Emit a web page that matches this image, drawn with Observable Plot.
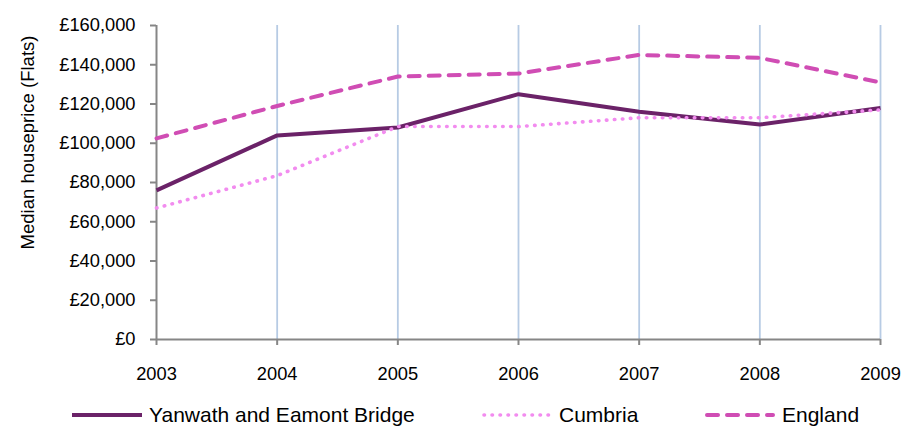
<!DOCTYPE html>
<html>
<head>
<meta charset="utf-8">
<script src="https://cdn.jsdelivr.net/npm/d3@7"></script>
<script src="https://cdn.jsdelivr.net/npm/@observablehq/plot@0.6"></script>
<style>
  html, body { margin: 0; padding: 0; background: #fff; }
  body { width: 917px; height: 430px; overflow: hidden; font-family: "Liberation Sans", Arial, sans-serif; }
  #legend { position: relative; width: 917px; height: 35px; }
  .item { position: absolute; top: 2px; height: 35px; display: flex; align-items: center; font-size: 21px; color: #000; }
  .item svg { margin-right: 7px; }
</style>
</head>
<body>
<div id="chart"></div>
<div id="legend"></div>
<script>
const years = [2003, 2004, 2005, 2006, 2007, 2008, 2009];
const yanwath = [76000, 104000, 108000, 125000, 116000, 109500, 118000];
const cumbria = [67000, 83500, 108500, 108500, 113000, 113000, 117000];
const england = [102500, 119000, 134000, 135500, 145000, 143500, 131000];
const seriesNames = ["Yanwath and Eamont Bridge", "Cumbria", "England"];
const yTicks = [0, 20000, 40000, 60000, 80000, 100000, 120000, 140000, 160000];
const yTitle = "Median houseprice (Flats)";

const styles = {
  "Yanwath and Eamont Bridge": {stroke: "#6b2268", strokeWidth: 4, dash: null, cap: "butt"},
  "Cumbria": {stroke: "#f28cef", strokeWidth: 3.6, dash: "0.5,7.5", cap: "round"},
  "England": {stroke: "#d04db4", strokeWidth: 4, dash: "11,9", cap: "round"}
};

const values = [yanwath, cumbria, england];
const data = [];
seriesNames.forEach((s, i) => years.forEach((yr, j) => data.push({series: s, year: yr, value: values[i][j]})));

const fmt = d3.format(",");
const lineMarks = seriesNames.map(s => Plot.line(data.filter(d => d.series === s), {
  x: "year", y: "value",
  stroke: styles[s].stroke, strokeWidth: styles[s].strokeWidth,
  strokeDasharray: styles[s].dash, strokeLinecap: styles[s].cap, strokeLinejoin: "round"
}));

const chart = Plot.plot({
  width: 917,
  height: 395,
  marginLeft: 156,
  marginRight: 37,
  marginTop: 25,
  marginBottom: 56,
  style: {fontFamily: "'Liberation Sans', Arial, sans-serif", fontSize: "18px", color: "#000", background: "#fff"},
  x: {domain: [2003, 2009]},
  y: {domain: [0, 160000]},
  marks: [
    Plot.gridX(years.slice(1), {stroke: "#b7cbe4", strokeOpacity: 1, strokeWidth: 1.8}),
    Plot.ruleX([2003], {stroke: "#868686", strokeWidth: 2}),
    Plot.ruleY([0], {stroke: "#868686", strokeWidth: 2}),
    Plot.axisY({ticks: yTicks, tickFormat: d => "£" + fmt(d), tickSize: 6, tickPadding: 15, stroke: "#868686", strokeWidth: 2, fill: "#000", label: null, fontSize: 18.3}),
    Plot.axisX({ticks: years, tickFormat: d => String(d), tickSize: 6, tickPadding: 21, stroke: "#868686", strokeWidth: 2, fill: "#000", label: null, fontSize: 18.3}),
    Plot.text([yTitle], {frameAnchor: "left", textAnchor: "middle", dx: -128, dy: -40, rotate: -90, fontSize: 18.5, fill: "#000"}),
    ...lineMarks
  ]
});
document.getElementById("chart").appendChild(chart);

const legendPos = [72, 482, 705];
const legend = document.getElementById("legend");
seriesNames.forEach((s, i) => {
  const st = styles[s];
  const div = document.createElement("div");
  div.className = "item";
  div.style.left = legendPos[i] + "px";
  div.innerHTML = `<svg width="70" height="10"><line x1="${st.cap === 'round' ? 2 : 0}" x2="${st.cap === 'round' ? 68 : 70}" y1="5" y2="5" stroke="${st.stroke}" stroke-width="${st.strokeWidth}" ${st.dash ? `stroke-dasharray="${st.dash}"` : ""} stroke-linecap="${st.cap}"/></svg><span>${s}</span>`;
  legend.appendChild(div);
});
</script>
</body>
</html>
